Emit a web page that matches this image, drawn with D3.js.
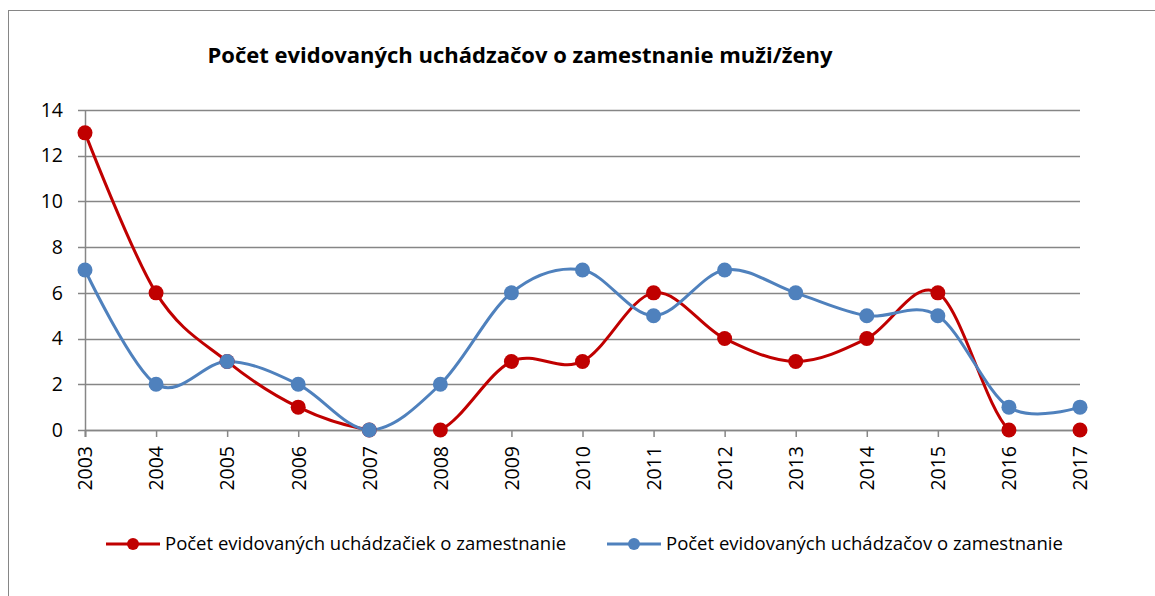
<!DOCTYPE html>
<html>
<head>
<meta charset="utf-8">
<script src="https://cdn.jsdelivr.net/npm/d3@7"></script>
<style>
  body { margin: 0; background: #fff; }
  text { font-family: "Open Sans", "Liberation Sans", sans-serif; }
</style>
</head>
<body>
<div id="chart"></div>
<script>
const years = ["2003","2004","2005","2006","2007","2008","2009","2010","2011","2012","2013","2014","2015","2016","2017"]
const zeny = [13, 6, 3, 1, 0, 0, 3, 3, 6, 4, 3, 4, 6, 0, 0]
const muzi = [7, 2, 3, 2, 0, 2, 6, 7, 5, 7, 6, 5, 5, 1, 1]
const yTicks = [0, 2, 4, 6, 8, 10, 12, 14]
const seriesNames = ["Počet evidovaných uchádzačiek o zamestnanie", "Počet evidovaných uchádzačov o zamestnanie"]
const colors = ["#C00000", "#4F81BD"]

const W = 1155, H = 596
const margin = { top: 110, right: 75, bottom: 166, left: 85 }
const width = W - margin.left - margin.right
const height = H - margin.top - margin.bottom

const root = d3.select("#chart").append("svg")
  .attr("width", W)
  .attr("height", H)

// outer frame
root.append("rect")
  .attr("x", 8.5).attr("y", 10.5)
  .attr("width", 1160).attr("height", 600)
  .attr("fill", "none")
  .attr("stroke", "#868686")
  .attr("stroke-width", 1)

root.append("text")
  .attr("x", 520).attr("y", 63)
  .attr("text-anchor", "middle")
  .style("font-size", "22px")
  .style("font-weight", "bold")
  .text("Počet evidovaných uchádzačov o zamestnanie muži/ženy")

const svg = root.append("g")
  .attr("transform", "translate(" + margin.left + "," + margin.top + ")")

const x = d3.scalePoint().domain(years).range([0, width])
const y = d3.scaleLinear().domain([0, 14]).range([height, 0])

// gridlines
svg.selectAll(".grid")
  .data(yTicks)
  .join("line")
  .attr("class", "grid")
  .attr("x1", -7).attr("x2", width)
  .attr("y1", d => Math.round(y(d)) + 0.5)
  .attr("y2", d => Math.round(y(d)) + 0.5)
  .attr("stroke", "#868686")
  .attr("stroke-width", 1.5)

const yAxis = d3.axisLeft(y).tickValues(yTicks).tickSize(0).tickPadding(22)
svg.append("g")
  .call(yAxis)
  .call(g => g.select(".domain").remove())
  .selectAll("text")
  .style("font-size", "19.5px")
  .attr("fill", "#000")

const xAxis = d3.axisBottom(x).tickSize(7).tickPadding(4)
svg.append("g")
  .attr("transform", "translate(0," + height + ")")
  .call(xAxis)
  .call(g => g.select(".domain").attr("stroke", "#868686").attr("stroke-width", 1.5))
  .call(g => g.selectAll(".tick line").attr("stroke", "#868686").attr("stroke-width", 1.5))
  .selectAll("text")
  .style("font-size", "19.5px")
  .attr("fill", "#000")
  .attr("text-anchor", "end")
  .attr("transform", "rotate(-90)")
  .attr("x", -16)
  .attr("y", 0)
  .attr("dy", "0.35em")

svg.append("line")
  .attr("x1", 0.5).attr("x2", 0.5)
  .attr("y1", 0).attr("y2", height + 7)
  .attr("stroke", "#868686")
  .attr("stroke-width", 1.5)

svg.append("clipPath").attr("id", "plotclip")
  .append("rect")
  .attr("x", -10).attr("y", -10)
  .attr("width", width + 20).attr("height", height + 10)

const line = d3.line()
  .x((d, i) => x(years[i]))
  .y(d => y(d))
  .curve(d3.curveCardinal.tension(0))

const series = [zeny, muzi]

series.forEach((vals, k) => {
  svg.append("path")
    .datum(vals)
    .attr("clip-path", "url(#plotclip)")
    .attr("fill", "none")
    .attr("stroke", colors[k])
    .attr("stroke-width", 3)
    .attr("d", line)
})

series.forEach((vals, k) => {
  svg.selectAll(".dot" + k)
    .data(vals)
    .join("circle")
    .attr("class", "dot" + k)
    .attr("cx", (d, i) => x(years[i]))
    .attr("cy", d => y(d))
    .attr("r", 7.5)
    .attr("fill", colors[k])
})

// legend
const legendX = [106, 607]
const legend = root.selectAll(".legend")
  .data(seriesNames)
  .join("g")
  .attr("class", "legend")
  .attr("transform", (d, i) => "translate(" + legendX[i] + ",544)")

legend.append("line")
  .attr("x1", 0).attr("x2", 54)
  .attr("stroke", (d, i) => colors[i])
  .attr("stroke-width", 3)

legend.append("circle")
  .attr("cx", 27).attr("r", 6)
  .attr("fill", (d, i) => colors[i])

legend.append("text")
  .attr("x", 59).attr("dy", "0.35em")
  .style("font-size", "18.5px")
  .text(d => d)
</script>
</body>
</html>
